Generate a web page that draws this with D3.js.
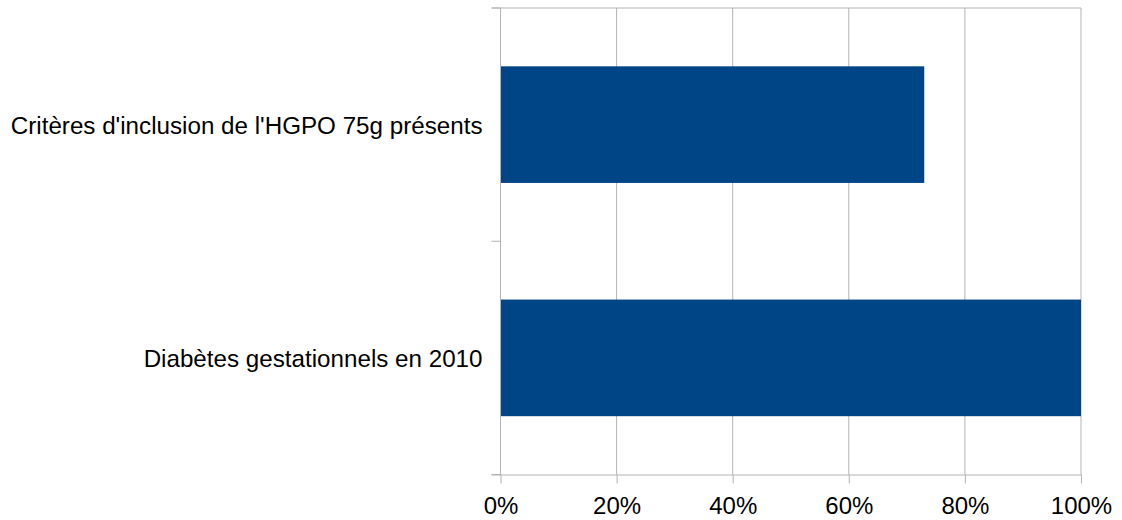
<!DOCTYPE html>
<html>
<head>
<meta charset="utf-8">
<script src="https://cdn.jsdelivr.net/npm/d3@7"></script>
<style>
  body { margin: 0; background: #fff; }
  text { font-family: "Liberation Sans", Arial, sans-serif; }
</style>
</head>
<body>
<div id="chart_svg"></div>
<script>
// data
const categories = ["Critères d'inclusion de l'HGPO 75g présents", "Diabètes gestationnels en 2010"]
const values = [73, 100]
const xTicks = [0, 20, 40, 60, 80, 100]

const totalWidth = 1122
const totalHeight = 520

// set the dimensions and margins of the graph
var margin = {top: 8, right: 41, bottom: 45.5, left: 500.5},
    width = totalWidth - margin.left - margin.right,
    height = totalHeight - margin.top - margin.bottom;

var sVg = d3.select("#chart_svg")
  .append("svg")
  .attr("width", totalWidth)
  .attr("height", totalHeight)
  .append("g")
  .attr("transform", "translate(" + margin.left + "," + margin.top + ")");

var x = d3.scaleLinear().domain([0, 100]).range([0, width]);
var y = d3.scaleBand().domain(categories).range([0, height]).paddingInner(0.5).paddingOuter(0.25);

// vertical gridlines
sVg.append("g")
  .selectAll("line")
  .data(xTicks)
  .join("line")
  .attr("x1", d => x(d)).attr("x2", d => x(d))
  .attr("y1", 0).attr("y2", height)
  .attr("stroke", "#b3b3b3")
  .attr("stroke-width", 1);

// top border line
sVg.append("line")
  .attr("x1", -9).attr("x2", width)
  .attr("y1", 0).attr("y2", 0)
  .attr("stroke", "#b3b3b3");

// bars
sVg.append("g")
  .selectAll("rect")
  .data(values)
  .join("rect")
  .attr("x", 0)
  .attr("y", (d, i) => y(categories[i]))
  .attr("width", d => x(d))
  .attr("height", y.bandwidth())
  .attr("fill", "#004586");

// X axis
var xAxis = sVg.append("g")
  .attr("transform", "translate(0," + height + ")")
  .call(d3.axisBottom(x).tickValues(xTicks).tickFormat(d => d + "%").tickSizeOuter(0).tickSize(9).tickPadding(13.5));
xAxis.select(".domain").attr("stroke", "#b3b3b3").attr("d", "M-9,0.5H" + width);
xAxis.selectAll(".tick line").attr("stroke", "#b3b3b3");
xAxis.selectAll("text").attr("font-size", 24).attr("fill", "#000").attr("font-family", "Liberation Sans, Arial, sans-serif");

// Y axis: ticks at category boundaries
var boundaries = [0, height / 2, height]
var yAxis = sVg.append("g");
yAxis.append("line")
  .attr("x1", 0).attr("x2", 0).attr("y1", 0).attr("y2", height)
  .attr("stroke", "#b3b3b3");
yAxis.selectAll(".bt")
  .data(boundaries)
  .join("line")
  .attr("class", "bt")
  .attr("x1", -9).attr("x2", 0)
  .attr("y1", d => d).attr("y2", d => d)
  .attr("stroke", "#b3b3b3");

// category labels
sVg.append("g")
  .selectAll("text")
  .data(categories)
  .join("text")
  .attr("x", -18)
  .attr("y", d => y(d) + y.bandwidth() / 2)
  .attr("dy", "0.39em")
  .attr("text-anchor", "end")
  .attr("font-size", 24.2)
  .attr("fill", "#000")
  .text(d => d);
</script>
</body>
</html>
